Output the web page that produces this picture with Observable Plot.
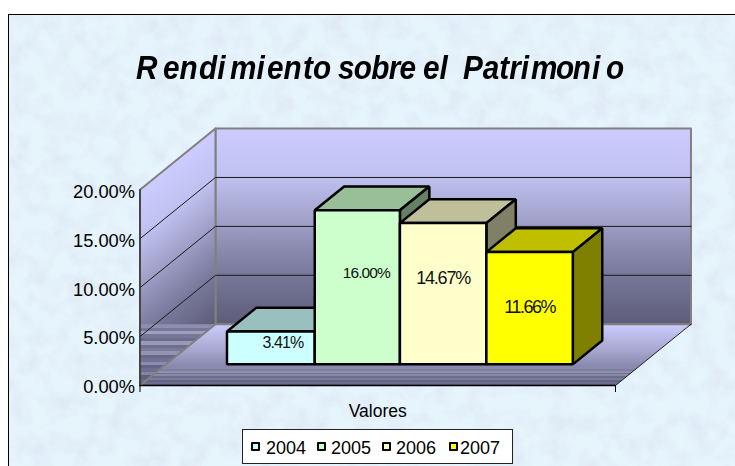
<!DOCTYPE html>
<html lang="es">
<head>
<meta charset="utf-8">
<script src="https://cdn.jsdelivr.net/npm/d3@7"></script>
<script src="https://cdn.jsdelivr.net/npm/@observablehq/plot@0.6"></script>
<style>
  html, body { margin: 0; padding: 0; width: 735px; height: 466px; overflow: hidden; background: #fff; font-family: "Liberation Sans", Arial, sans-serif; }
  #panel { position: absolute; left: 8px; top: 14px; width: 735px; height: 460px; border: 1px solid #000; box-sizing: border-box; background-color: #e6f4fc; }
  #panel::before { content: ""; position: absolute; inset: 0; background-image: url("data:image/svg+xml;utf8,<svg xmlns='http://www.w3.org/2000/svg' width='735' height='466'><filter id='n'><feTurbulence type='fractalNoise' baseFrequency='0.05' numOctaves='4' seed='7'/><feColorMatrix values='0 0 0 0 0.74  0 0 0 0 0.82  0 0 0 0 0.92  2.4 0 0 0 -0.95'/></filter><rect width='735' height='466' filter='url(%23n)'/></svg>"); }
  #title { position: relative; height: 85px; margin: 0; font: italic bold 33px "Liberation Sans", Arial, sans-serif; color: #000; line-height: 1; }
  #title span { position: absolute; top: 36px; white-space: pre; transform: scaleX(0.9); transform-origin: 0 0; }
  #plot { position: relative; height: 327px; }
  #plot svg { display: block; background: transparent; overflow: visible; }
  #legend { position: absolute; left: 233px; top: 414px; width: 271px; height: 35px; box-sizing: border-box; background: #fff; border: 1px solid #222; font-size: 18px; color: #000; }
  #legend span { position: absolute; top: 7px; line-height: 22px; }
  #legend i { position: absolute; top: 12px; width: 9px; height: 9px; box-sizing: border-box; border: 2px solid #000; border-radius: 1px; }
  .lab0 text { letter-spacing: -0.9px; }
  .lab1 text { letter-spacing: -0.9px; }
  .lab2 text { letter-spacing: -1.25px; }
  .lab3 text { letter-spacing: -1.5px; }
</style>
</head>
<body>
<div id="panel">
  <h1 id="title"></h1>
  <div id="plot"></div>
  <div id="legend"></div>
</div>
<script>
const titleParts = ["R", "en", "di", "mi", "en", "to ", "sobre ", "el ", "Patri", "mon", "i", "o"];
const titleLefts = [127, 154, 190, 221, 258, 294, 329, 414, 454, 522, 583, 597];
const titleTracking = [0, 0, 0, 0, 0, 0, -0.8, 0, 0, -1.5, 0, 0];
const years = ["2004", "2005", "2006", "2007"];
const values = [3.41, 16.00, 14.67, 11.66];
const frontColors = ["#ccffff", "#ccffcc", "#ffffcc", "#ffff00"];
const topColors = ["#99bfbf", "#99bf99", "#bfbf99", "#bfbf00"];
const sideColors = ["#668080", "#668066", "#808066", "#808000"];
const yTicks = [0, 5, 10, 15, 20];
const gridValues = [5, 10, 15];
const labelStyles = [
  {dx: 12, dy: -5, size: 16},
  {dx: 9, dy: -14, size: 15.5},
  {dx: 0, dy: -16, size: 18},
  {dx: 0, dy: -1, size: 18}
];
const sideStripes = ["#8e8eb2", "#77779a", "#a0a0bc", "#777799", "#6c6c8e", "#9a9ab6", "#6e6e90", "#7a7a9c", "#9494b0", "#68688a", "#727292", "#8c8caa", "#64648a", "#6e6e8e", "#84849f", "#60607e", "#6a6a88", "#5e5e7c"];
const floorStripes = ["#8a8aac", "#7e7ea2", "#9090ae", "#747498", "#868aa6", "#6c6c8e", "#7c7c9a", "#646486", "#6e6e8c", "#5e5e7e"];

// oblique projection of the 3-D box: category position u, value v, depth z (0 front, 1 back)
const axisEnd = 5.5, depthX = 0.873, depthY = 6.26;
const barEdges = [0.705, 1.72, 2.705, 3.705, 4.705];
const zFront = 0.345, zBack = 0.735, barFore = 0.984;
const P = (u, v, z) => ({x: u + z * depthX, y: v + z * depthY});
const poly = (pts, opts) => Plot.line(pts.map(p => P(...p)), {x: "x", y: "y", curve: "linear-closed", ...opts});
const seg = (pts, opts) => Plot.line(pts.map(p => P(...p)), {x: "x", y: "y", ...opts});

function stops(id, list, attrs = {}) {
  const g = d3.create("svg:linearGradient").attr("id", id);
  for (const k in attrs) g.attr(k, attrs[k]);
  for (const [o, c] of list) g.append("stop").attr("offset", o).attr("stop-color", c);
  return g.node();
}
const bands = list => list.flatMap((c, i) => [[i / list.length, c], [(i + 1) / list.length, c]]);
const vertical = {x1: 0, y1: 0, x2: 0, y2: 1};
const wallStops = [[0, "#ccccff"], [0.25, "#c0c0f0"], [0.5, "#9c9cc4"], [0.75, "#77779a"], [1, "#5d5d78"]];
const gradients = (index, {x, y}) => {
  const defs = d3.create("svg:defs");
  defs.append(() => stops("gWall", wallStops, vertical));
  defs.append(() => stops("gFloor", [[0, "#ccccff"], [0.45, "#a4a4cc"], [1, "#66668a"]], vertical));
  defs.append(() => stops("gSideBands", bands(sideStripes), vertical));
  defs.append(() => stops("gFloorBands", bands(floorStripes), vertical));
  // the side wall shades along its slanted courses
  const a = P(0, 20, 0), b = P(0, 20, 1);
  const ax = x(a.x), ay = y(a.y), ex = x(b.x) - ax, ey = y(b.y) - ay, h = y(0) - y(20);
  const k = h * ex / (ex * ex + ey * ey);
  defs.append(() => stops("gSide", wallStops, {gradientUnits: "userSpaceOnUse", x1: ax, y1: ay, x2: ax - ey * k, y2: ay + ex * k}));
  return defs.node();
};

const marks = [
  gradients,
  poly([[0, 0, 1], [axisEnd, 0, 1], [axisEnd, 20, 1], [0, 20, 1]], {fill: "url(#gWall)", stroke: "#808080", strokeWidth: 2}),
  poly([[0, 0, 0], [0, 0, 1], [0, 20, 1], [0, 20, 0]], {fill: "url(#gSide)", stroke: "#808080", strokeWidth: 2}),
  poly([[0, 0, 0], [0, 0, 1], [0, depthY, 0]], {fill: "url(#gSideBands)"}),
  poly([[0, 0, 0], [axisEnd, 0, 0], [axisEnd, 0, 1], [0, 0, 1]], {fill: "url(#gFloor)"}),
  poly([[0, 0, 0], [axisEnd, 0, 0], [axisEnd, 0, 0.3], [0, 0, 0.3]], {fill: "url(#gFloorBands)"}),
  seg([[0, 0, 0], [0, 0, 1]], {stroke: "#808080", strokeWidth: 2}),
  seg([[0, 0, 1], [axisEnd, 0, 1]], {stroke: "#808080", strokeWidth: 2}),
  seg([[axisEnd, 0, 0], [axisEnd, 0, 1]], {stroke: "#222", strokeWidth: 1}),
  ...gridValues.map(v => seg([[0, v, 0], [0, v, 1], [axisEnd, v, 1]], {stroke: "#1a1a1a", strokeWidth: 1})),
  Plot.ruleX([0], {y1: 0, y2: 20, stroke: "#333", strokeWidth: 1.5}),
  Plot.ruleY([0], {x1: 0, x2: axisEnd, stroke: "#000", strokeWidth: 1.5}),
  Plot.axisY({ticks: yTicks, tickFormat: d => d.toFixed(2) + "%", tickSize: 0, tickPadding: 5, label: null, fontSize: 18.3, fill: "#000", dy: 2, lineWidth: 10}),
  Plot.axisX({ticks: [0, axisEnd], tickSize: 7, tickFormat: () => "", label: "Valores", labelAnchor: "center", labelOffset: 31, labelArrow: "none", fontSize: 17.5, fill: "#000"})
];

values.forEach((v, i) => {
  const u0 = barEdges[i], u1 = barEdges[i + 1], h = v * barFore;
  const style = {stroke: "#000", strokeWidth: 2.5, strokeLinejoin: "miter"};
  marks.push(
    poly([[u0, h, zFront], [u1, h, zFront], [u1, h, zBack], [u0, h, zBack]], {fill: topColors[i], ...style}),
    poly([[u1, 0, zFront], [u1, 0, zBack], [u1, h, zBack], [u1, h, zFront]], {fill: sideColors[i], ...style}),
    poly([[u0, 0, zFront], [u1, 0, zFront], [u1, h, zFront], [u0, h, zFront]], {fill: frontColors[i], ...style})
  );
});
values.forEach((v, i) => {
  const p = P((barEdges[i] + barEdges[i + 1]) / 2, v * barFore / 2, zFront), s = labelStyles[i];
  marks.push(Plot.text([v], {x: () => p.x, y: () => p.y, text: d => d.toFixed(2) + "%", fontSize: s.size, dx: s.dx, dy: s.dy, fill: "#111", className: "lab" + i}));
});

const chart = Plot.plot({
  width: 726, height: 327,
  marginLeft: 130.5, marginRight: 120, marginTop: 89.3, marginBottom: 42,
  style: {background: "transparent", fontFamily: "'Liberation Sans', Arial, sans-serif", overflow: "visible"},
  x: {domain: [0, axisEnd], axis: null},
  y: {domain: [0, 20], axis: null},
  marks
});
document.getElementById("plot").append(chart);

const title = document.getElementById("title");
titleParts.forEach((t, i) => {
  const s = document.createElement("span");
  s.textContent = t;
  s.style.left = titleLefts[i] + "px";
  s.style.letterSpacing = titleTracking[i] + "px";
  title.append(s);
});

const legendSwatchX = [8, 74, 139, 206];
const legendTextX = [23, 88, 153, 217];
const legend = document.getElementById("legend");
years.forEach((y, i) => {
  const sw = document.createElement("i");
  sw.style.left = legendSwatchX[i] + "px";
  sw.style.background = frontColors[i];
  const t = document.createElement("span");
  t.style.left = legendTextX[i] + "px";
  t.textContent = y;
  legend.append(sw, t);
});
</script>
</body>
</html>
